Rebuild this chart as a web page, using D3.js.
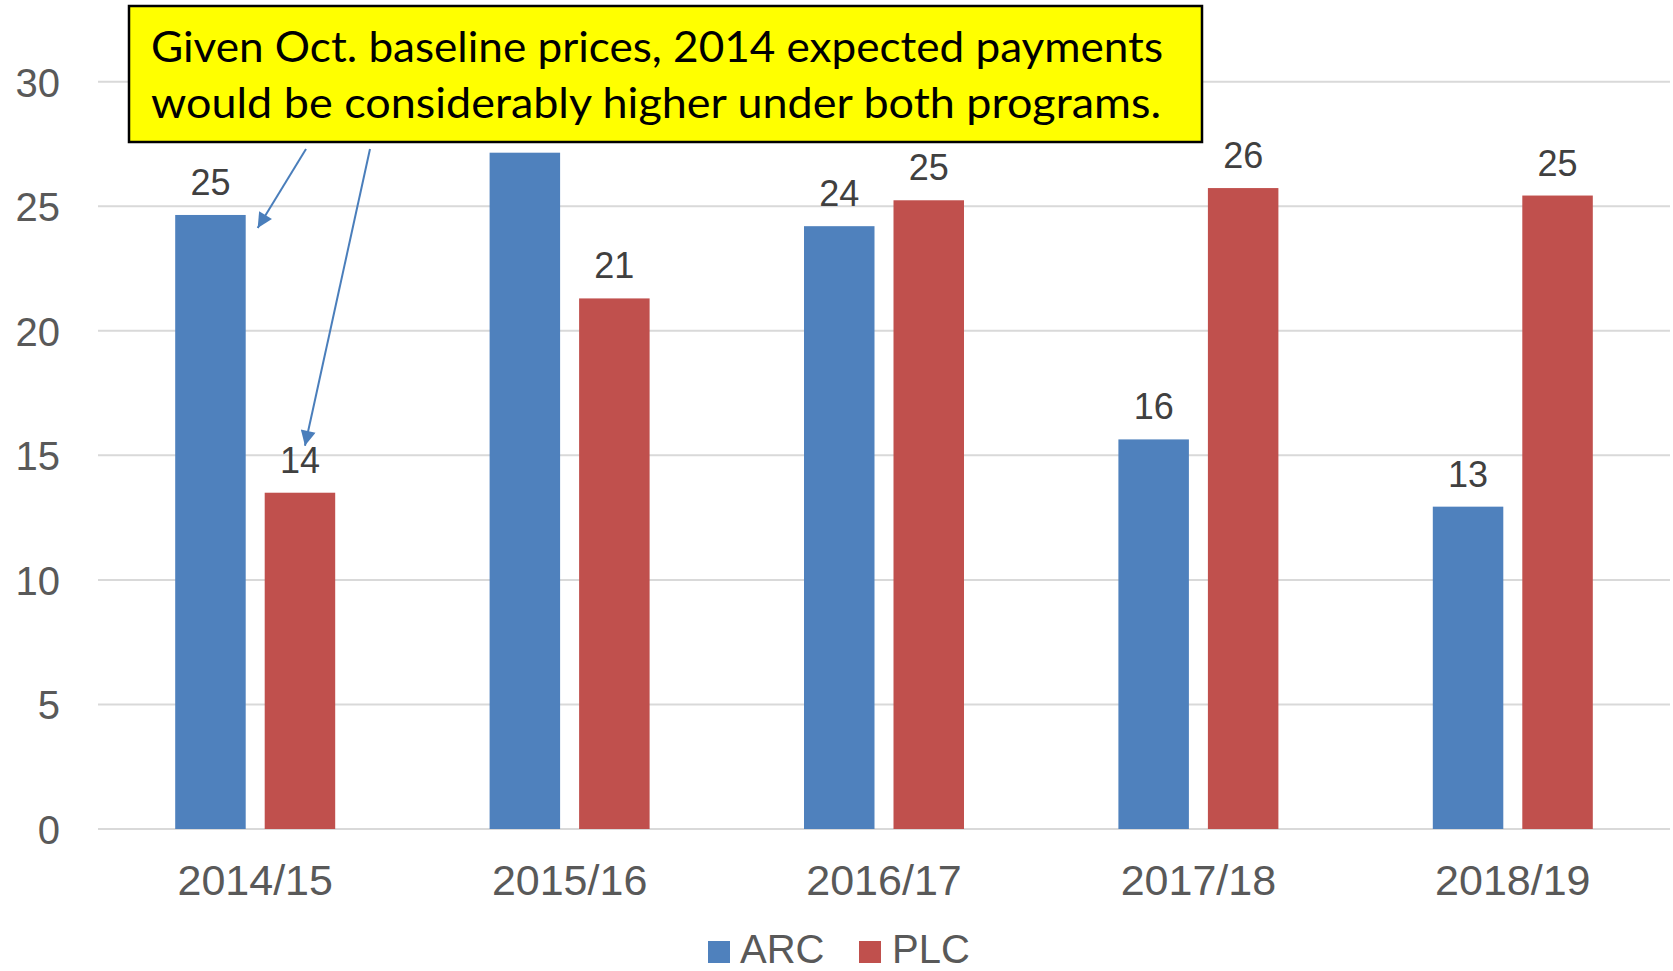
<!DOCTYPE html>
<html>
<head>
<meta charset="utf-8">
<script src="https://cdn.jsdelivr.net/npm/d3@7"></script>
<style>
  html, body { margin: 0; padding: 0; background: #fff; }
  svg { display: block; }
</style>
</head>
<body>
<svg id="chart" width="1673" height="971"></svg>
<script>
// ---- data ----
const categories = ["2014/15", "2015/16", "2016/17", "2017/18", "2018/19"];
const seriesNames = ["ARC", "PLC"];
const arcValues = [24.65, 27.15, 24.2, 15.64, 12.94];
const plcValues = [13.5, 21.3, 25.24, 25.73, 25.43];
const yTicks = [0, 5, 10, 15, 20, 25, 30];
const annotationLines = [
  "Given Oct. baseline prices, 2014 expected payments",
  "would be considerably higher under both programs."
];

// ---- layout ----
const W = 1673, H = 971;
const plot = { left: 98, right: 1670, top: 81.7, bottom: 829 };
const colors = { ARC: "#4F81BD", PLC: "#C0504D" };
const barW = 70.5, barGap = 19;

const svg = d3.select("#chart");

const x = d3.scaleBand().domain(categories).range([plot.left, plot.right]).padding(0);
const y = d3.scaleLinear().domain([0, 30]).range([plot.bottom, plot.top]);

// gridlines
svg.append("g")
  .selectAll("line")
  .data(yTicks)
  .join("line")
  .attr("x1", plot.left).attr("x2", plot.right)
  .attr("y1", d => y(d)).attr("y2", d => y(d))
  .attr("stroke", "#d9d9d9").attr("stroke-width", 2);

// y axis labels
const yAxis = d3.axisLeft(y).tickValues(yTicks).tickSize(0).tickPadding(0);
const gy = svg.append("g").attr("transform", `translate(60,0)`).call(yAxis);
gy.select(".domain").remove();
gy.selectAll("text")
  .attr("font-family", "Liberation Sans, Arial, sans-serif")
  .attr("font-size", 40)
  .attr("fill", "#595959")
  .attr("dy", "0.36em");

// x axis labels
const xAxis = d3.axisBottom(x).tickSize(0).tickPadding(0);
const gx = svg.append("g").attr("transform", `translate(0,895)`).call(xAxis);
gx.select(".domain").remove();
gx.selectAll("text")
  .attr("font-family", "Liberation Sans, Arial, sans-serif")
  .attr("font-size", 43)
  .attr("fill", "#595959")
  .attr("dy", 0);

// bars
const rows = categories.map((c, i) => ({ cat: c, ARC: arcValues[i], PLC: plcValues[i] }));
function barX(cat, s) {
  const c = x(cat) + x.bandwidth() / 2;
  return s === "ARC" ? c - barGap / 2 - barW : c + barGap / 2;
}
const barData = [];
rows.forEach(r => seriesNames.forEach(s => barData.push({ cat: r.cat, s, v: r[s] })));

svg.append("g")
  .selectAll("rect")
  .data(barData)
  .join("rect")
  .attr("x", d => barX(d.cat, d.s))
  .attr("width", barW)
  .attr("y", d => y(d.v))
  .attr("height", d => y(0) - y(d.v))
  .attr("fill", d => colors[d.s]);

// data labels
const fmt = d3.format(".0f");
svg.append("g")
  .selectAll("text")
  .data(barData)
  .join("text")
  .attr("x", d => barX(d.cat, d.s) + barW / 2)
  .attr("y", d => y(d.v) - 20)
  .attr("text-anchor", "middle")
  .attr("font-family", "Liberation Sans, Arial, sans-serif")
  .attr("font-size", 36)
  .attr("fill", "#404040")
  .text(d => fmt(d.v));

// legend
const legend = svg.append("g");
const legendItems = [
  { name: "ARC", sx: 708, tx: 740 },
  { name: "PLC", sx: 859, tx: 892 }
];
legend.selectAll("rect")
  .data(legendItems)
  .join("rect")
  .attr("x", d => d.sx).attr("y", 941)
  .attr("width", 22).attr("height", 22)
  .attr("fill", d => colors[d.name]);
legend.selectAll("text")
  .data(legendItems)
  .join("text")
  .attr("x", d => d.tx).attr("y", 963)
  .attr("font-family", "Liberation Sans, Arial, sans-serif")
  .attr("font-size", 40)
  .attr("fill", "#595959")
  .text(d => d.name);

// arrows
const defs = svg.append("defs");
defs.append("marker")
  .attr("id", "ah")
  .attr("viewBox", "0 0 10 10")
  .attr("refX", 10).attr("refY", 5)
  .attr("markerUnits", "userSpaceOnUse")
  .attr("markerWidth", 17).attr("markerHeight", 15)
  .attr("orient", "auto")
  .append("path")
  .attr("d", "M0,0 L10,5 L0,10 Z")
  .attr("fill", "#4A7EBB");

const arrows = [
  { x1: 306, y1: 149, x2: barX(categories[0], "ARC") + barW + 12, y2: y(arcValues[0]) + 13 },
  { x1: 370, y1: 149, x2: barX(categories[0], "PLC") + barW / 2 + 5, y2: y(plcValues[0]) - 47 }
];
svg.append("g")
  .selectAll("line")
  .data(arrows)
  .join("line")
  .attr("x1", d => d.x1).attr("y1", d => d.y1)
  .attr("x2", d => d.x2).attr("y2", d => d.y2)
  .attr("stroke", "#4A7EBB").attr("stroke-width", 2)
  .attr("marker-end", "url(#ah)");

// annotation box
const box = svg.append("g");
box.append("rect")
  .attr("x", 129).attr("y", 6)
  .attr("width", 1202 - 129).attr("height", 142 - 6)
  .attr("fill", "#FFFF00")
  .attr("stroke", "#000").attr("stroke-width", 2.5);
box.selectAll("text")
  .data(annotationLines)
  .join("text")
  .attr("x", 151)
  .attr("y", (d, i) => 62 + i * 56)
  .attr("font-family", "Lato, 'Open Sans', sans-serif")
  .attr("font-size", 42)
  .attr("fill", "#000")
  .attr("textLength", (d, i) => i === 0 ? 1012 : 1010)
  .attr("lengthAdjust", "spacingAndGlyphs")
  .text(d => d);
</script>
</body>
</html>
